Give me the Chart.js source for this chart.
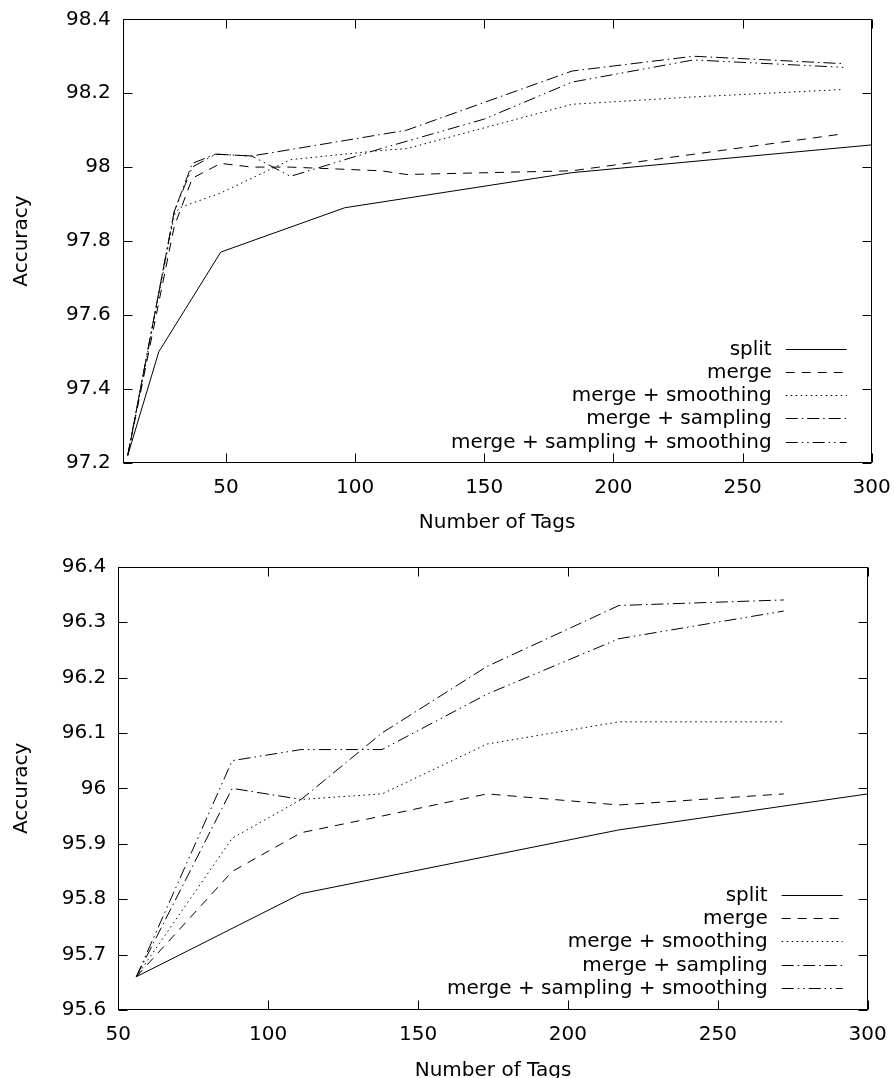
<!DOCTYPE html>
<html>
<head>
<meta charset="utf-8">
<script src="https://cdn.jsdelivr.net/npm/chart.js@4.4.1/dist/chart.umd.min.js"></script>
<style>
html,body{margin:0;padding:0;background:#fff;overflow:hidden;}
#top{position:absolute;left:0;top:0;}
#bottom{position:absolute;left:0;top:540px;}
</style>
</head>
<body>
<canvas id="top" width="894" height="540"></canvas>
<canvas id="bottom" width="894" height="548"></canvas>
<script>
/* ---------- labels ---------- */
const seriesNames=["split","merge","merge + smoothing","merge + sampling","merge + sampling + smoothing"];
const xTitle="Number of Tags";
const yTitle="Accuracy";

/* ---------- upper plot data ---------- */
const topXTicks=[50,100,150,200,250,300];
const topYTicks=[97.2,97.4,97.6,97.8,98,98.2,98.4];
const topYLabels=["97.2","97.4","97.6","97.8","98","98.2","98.4"];

const topSplitX=[12,24,48,96,184,300];
const topSplitY=[97.22,97.50,97.77,97.89,97.985,98.06];
const topMergeX=[12,30,37,48,60,75,110,120,184,289];
const topMergeY=[97.22,97.84,97.97,98.01,98.0,98.0,97.99,97.98,97.99,98.09];
const topSmoothX=[12,30,32,48,75,110,120,184,231,289];
const topSmoothY=[97.22,97.87,97.89,97.93,98.02,98.045,98.05,98.17,98.19,98.21];
const topSampX=[12,30,37,46,60,120,184,231,289];
const topSampY=[97.22,97.88,98.01,98.035,98.03,98.10,98.26,98.30,98.28];
const topBothX=[12,30,37,46,60,75,110,150,184,231,289];
const topBothY=[97.22,97.88,98.0,98.035,98.03,97.975,98.05,98.13,98.23,98.29,98.27];

/* ---------- lower plot data ---------- */
const botXTicks=[50,100,150,200,250,300];
const botYTicks=[95.6,95.7,95.8,95.9,96,96.1,96.2,96.3,96.4];
const botYLabels=["95.6","95.7","95.8","95.9","96","96.1","96.2","96.3","96.4"];

const botSplitX=[56,111,217,300];
const botSplitY=[95.66,95.81,95.925,95.99];
const botX=[56,88,111,138,173,217,272];
const botMergeY=[95.66,95.85,95.92,95.95,95.99,95.97,95.99];
const botSmoothY=[95.66,95.91,95.98,95.99,96.08,96.12,96.12];
const botSampY=[95.66,96.0,95.98,96.10,96.22,96.33,96.34];
const botBothY=[95.66,96.05,96.07,96.07,96.17,96.27,96.32];

/* ---------- styles ---------- */
const dashes=[[],[9,7],[1.5,3.5],[12,4,1.5,4],[12,4,1.5,4,1.5,4]];
const FONT="'DejaVu Sans', sans-serif";

function pts(xs,ys){return xs.map((x,i)=>({x:x,y:ys[i]}));}
function sets(list){
  return list.map((d,i)=>({
    label:seriesNames[i],data:d,borderColor:"#000",borderWidth:1,
    borderDash:dashes[i],pointRadius:0,tension:0,fill:false
  }));
}

// inward ticks on all four sides + frame
const frame={
  id:"frame",
  afterDatasetsDraw(chart){
    const {ctx,chartArea:a,scales:{x,y}}=chart;
    const L=Math.round(a.left)+.5,R=Math.round(a.right)-.5,T=Math.round(a.top)+.5,B=Math.round(a.bottom)-.5;
    ctx.save();
    ctx.strokeStyle="#000";ctx.lineWidth=1;ctx.setLineDash([]);
    ctx.beginPath();
    x.ticks.forEach(t=>{
      const p=Math.round(x.getPixelForValue(t.value))+.5;
      ctx.moveTo(p,B);ctx.lineTo(p,B-9);
      ctx.moveTo(p,T);ctx.lineTo(p,T+9);
    });
    y.ticks.forEach(t=>{
      const p=Math.round(y.getPixelForValue(t.value))+.5;
      ctx.moveTo(L,p);ctx.lineTo(L+9,p);
      ctx.moveTo(R,p);ctx.lineTo(R-9,p);
    });
    ctx.stroke();
    ctx.strokeRect(L,T,R-L,B-T);
    ctx.restore();
  }
};

// gnuplot style key: right aligned text, sample line on the right
const key={
  id:"key",
  afterDatasetsDraw(chart,args,opts){
    const {ctx,chartArea:a}=chart;
    const n=chart.data.datasets.length;
    ctx.save();
    ctx.font="20px "+FONT;
    ctx.fillStyle="#000";ctx.strokeStyle="#000";ctx.lineWidth=1;
    ctx.textAlign="right";ctx.textBaseline="middle";
    chart.data.datasets.forEach((ds,i)=>{
      const yy=Math.round(a.bottom-opts.bottom-(n-1-i)*23.3)+.5;
      ctx.fillText(ds.label,a.right-100,yy);
      ctx.setLineDash(ds.borderDash||[]);
      ctx.beginPath();
      ctx.moveTo(a.right-86,yy);ctx.lineTo(a.right-25,yy);
      ctx.stroke();
    });
    ctx.restore();
  }
};

function makeChart(id,datasets,c){
  return new Chart(document.getElementById(id),{
    type:"line",
    data:{datasets:datasets},
    plugins:[frame,key],
    options:{
      responsive:false,animation:false,
      layout:{padding:{left:0,right:c.padRight,top:c.padTop,bottom:0}},
      plugins:{legend:{display:false},tooltip:{enabled:false},key:{bottom:c.keyBottom}},
      scales:{
        x:{
          type:"linear",min:c.xMin,max:c.xMax,
          grid:{display:false,drawTicks:false},border:{display:false},
          afterBuildTicks:s=>{s.ticks=c.xTicks.map(v=>({value:v}));},
          afterFit:s=>{s.height=c.xHeight;s.paddingLeft=0;s.paddingRight=0;},
          ticks:{autoSkip:false,maxRotation:0,padding:12.7,color:"#000",font:{family:FONT,size:20}},
          title:{display:true,text:xTitle,color:"#000",font:{family:FONT,size:20},padding:{top:0,bottom:5}}
        },
        y:{
          type:"linear",min:c.yMin,max:c.yMax,
          grid:{display:false,drawTicks:false},border:{display:false},
          afterBuildTicks:s=>{s.ticks=c.yTicks.map(v=>({value:v}));},
          afterFit:s=>{s.width=c.yWidth;s.paddingTop=0;s.paddingBottom=0;},
          ticks:{autoSkip:false,padding:12,color:"#000",font:{family:FONT,size:20},
            callback:(v,i)=>c.yLabels[i]},
          title:{display:true,text:yTitle,color:"#000",font:{family:FONT,size:20},padding:{top:10,bottom:0}}
        }
      }
    }
  });
}

makeChart("top",sets([
  pts(topSplitX,topSplitY),pts(topMergeX,topMergeY),pts(topSmoothX,topSmoothY),
  pts(topSampX,topSampY),pts(topBothX,topBothY)
]),{
  xMin:10,xMax:300,yMin:97.2,yMax:98.4,xTicks:topXTicks,yTicks:topYTicks,yLabels:topYLabels,
  padRight:22.3,padTop:19.3,yWidth:122.6,xHeight:77.3,keyBottom:21
});

makeChart("bottom",sets([
  pts(botSplitX,botSplitY),pts(botX,botMergeY),pts(botX,botSmoothY),
  pts(botX,botSampY),pts(botX,botBothY)
]),{
  xMin:50,xMax:300,yMin:95.6,yMax:96.4,xTicks:botXTicks,yTicks:botYTicks,yLabels:botYLabels,
  padRight:26.3,padTop:26.7,yWidth:118.3,xHeight:78,keyBottom:22
});
</script>
</body>
</html>
